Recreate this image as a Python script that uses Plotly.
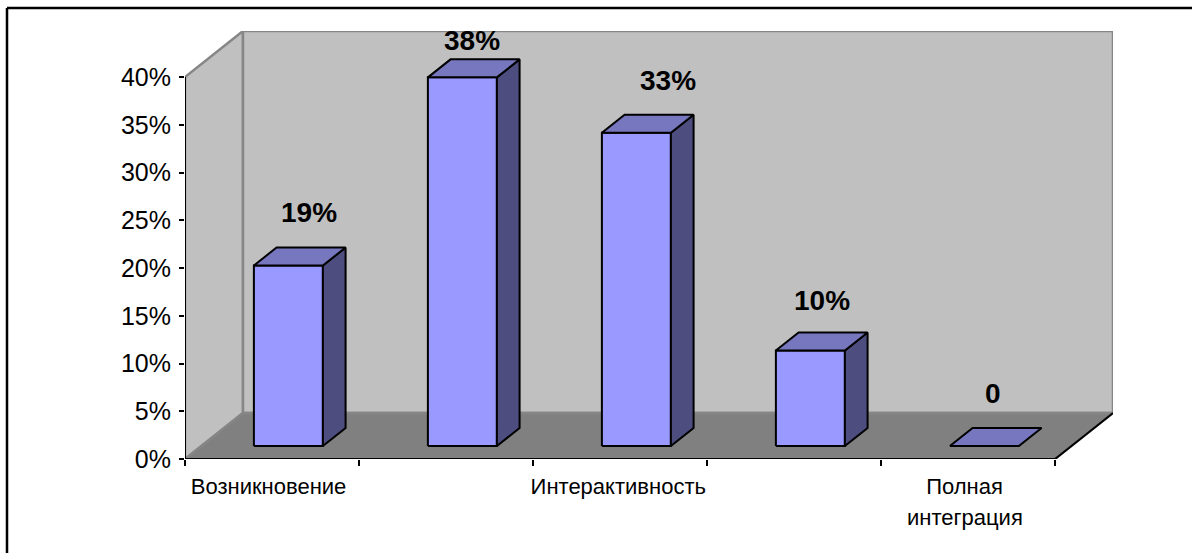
import plotly.graph_objects as go

# --- data ---
categories = ["Возникновение", "", "Интерактивность", "", "Полная интеграция"]
values = [18.9, 38.6, 32.8, 10.0, 0.0]
value_labels = ["19%", "38%", "33%", "10%", "0"]
y_ticks = [0, 5, 10, 15, 20, 25, 30, 35, 40]
y_tick_labels = ["0%", "5%", "10%", "15%", "20%", "25%", "30%", "35%", "40%"]
x_label_slots = [0.48, 2.49, 4.48]
x_label_text = ["Возникновение", "Интерактивность", "Полная"]
x_label_second_line = "интеграция"

# --- oblique projection of the depth axis, in axis units ---
CAT_W, VAL_H = 174.0, 382 / 40          # px per unit (used only to size the figure)
DEPTH_X, DEPTH_Y = 58 / CAT_W, 46 / VAL_H
BAR_W = 69 / CAT_W
D0, D1 = 13 / 46, 31 / 46
YMAX = 40
N = len(categories)

W, H = 1192, 553
L, R, T, B = 185, 1192 - 1113, 31, 553 - 459

FRONT, SIDE, TOP = "#9999FF", "#4D4D80", "#7777BF"
WALL, FLOOR, EDGE = "#C0C0C0", "#808080", "#868686"


def proj(x, y, d):
    return x + d * DEPTH_X, y + d * DEPTH_Y


def poly(pts, fill, line, width):
    xs = [p[0] for p in pts] + [pts[0][0]]
    ys = [p[1] for p in pts] + [pts[0][1]]
    return go.Scatter(x=xs, y=ys, mode="lines", fill="toself", fillcolor=fill,
                      line=dict(color=line, width=width), hoverinfo="skip",
                      showlegend=False, cliponaxis=False)


def seg(pts, color, width):
    return go.Scatter(x=[p[0] for p in pts], y=[p[1] for p in pts], mode="lines",
                      line=dict(color=color, width=width), hoverinfo="skip",
                      showlegend=False, cliponaxis=False)


fig = go.Figure()

# walls and floor
fig.add_trace(poly([proj(0, 0, 0), proj(0, YMAX, 0), proj(0, YMAX, 1), proj(0, 0, 1)], WALL, EDGE, 2.5))
fig.add_trace(poly([proj(0, 0, 1), proj(0, YMAX, 1), proj(N, YMAX, 1), proj(N, 0, 1)], WALL, EDGE, 2.5))
fig.add_trace(poly([proj(0, 0, 0), proj(0, 0, 1), proj(N, 0, 1), proj(N, 0, 0)], FLOOR, EDGE, 2.5))

# bars
for i, v in enumerate(values):
    x0, x1 = i + 0.5 - BAR_W / 2, i + 0.5 + BAR_W / 2
    if v > 0:
        fig.add_trace(poly([proj(x0, 0, D0), proj(x0, v, D0), proj(x1, v, D0), proj(x1, 0, D0)], FRONT, "black", 2))
        fig.add_trace(poly([proj(x1, 0, D0), proj(x1, v, D0), proj(x1, v, D1), proj(x1, 0, D1)], SIDE, "black", 2))
    fig.add_trace(poly([proj(x0, v, D0), proj(x0, v, D1), proj(x1, v, D1), proj(x1, v, D0)], TOP, "black", 2))

# axis lines
fig.add_trace(seg([(0, YMAX), (0, 0), (N, 0), proj(N, 0, 1)], "black", 2))

# value labels (hand-placed in the original, so each has its own nudge in px)
nudges = [(21, -35), (10, -19), (32, -34), (12, -32), (9, -35)]
for i, (v, t) in enumerate(zip(values, value_labels)):
    ax, ay = proj(i + 0.5, v, D1)
    bx, _ = proj(i + 0.5, v, D0)
    fig.add_annotation(x=bx, y=ay, xref="x", yref="y", text=t, showarrow=False,
                       xshift=nudges[i][0], yshift=-nudges[i][1],
                       font=dict(family="Liberation Sans", size=28, color="black", weight="bold"))

# second line of the wrapped category label
fig.add_annotation(x=x_label_slots[-1], y=0, xref="x", yref="y", text=x_label_second_line,
                   showarrow=False, yshift=-58,
                   font=dict(family="Liberation Sans", size=22, color="black"))

# chart-area frame (cropped at right and bottom in the reference)
fig.add_shape(type="line", xref="paper", yref="paper", x0=(7 - L) / (W - L - R), x1=(W - L) / (W - L - R),
              y0=1 + (T - 8) / (H - T - B), y1=1 + (T - 8) / (H - T - B), line=dict(color="black", width=2.5))
fig.add_shape(type="line", xref="paper", yref="paper", x0=(7 - L) / (W - L - R), x1=(7 - L) / (W - L - R),
              y0=1 + (T - 8) / (H - T - B), y1=-(B) / (H - T - B), line=dict(color="black", width=2.5))

fig.update_layout(
    width=W, height=H, margin=dict(l=L, r=R, t=T, b=B, pad=0, autoexpand=False),
    paper_bgcolor="white", plot_bgcolor="white", showlegend=False,
    xaxis=dict(range=[0, N + DEPTH_X], showgrid=False, zeroline=False, showline=False,
               tickmode="array", tickvals=x_label_slots, ticktext=x_label_text, ticks="",
               tickfont=dict(family="Liberation Sans", size=22, color="black"), tickangle=0,
               ticklabelstandoff=12,
               minor=dict(tickmode="array", tickvals=list(range(N + 1)), ticks="outside",
                          ticklen=6, tickwidth=2, tickcolor="black", showgrid=False)),
    yaxis=dict(range=[0, YMAX + DEPTH_Y], showgrid=False, zeroline=False, showline=False,
               tickmode="array", tickvals=y_ticks, ticktext=y_tick_labels, ticks="outside",
               ticklen=5, tickwidth=2, tickcolor="black", ticklabelstandoff=3,
               tickfont=dict(family="Liberation Sans", size=25, color="black")),
)

fig.write_html("out.html", config={"displayModeBar": False},
               post_script="document.body.style.margin='0';document.body.style.overflow='hidden';")
